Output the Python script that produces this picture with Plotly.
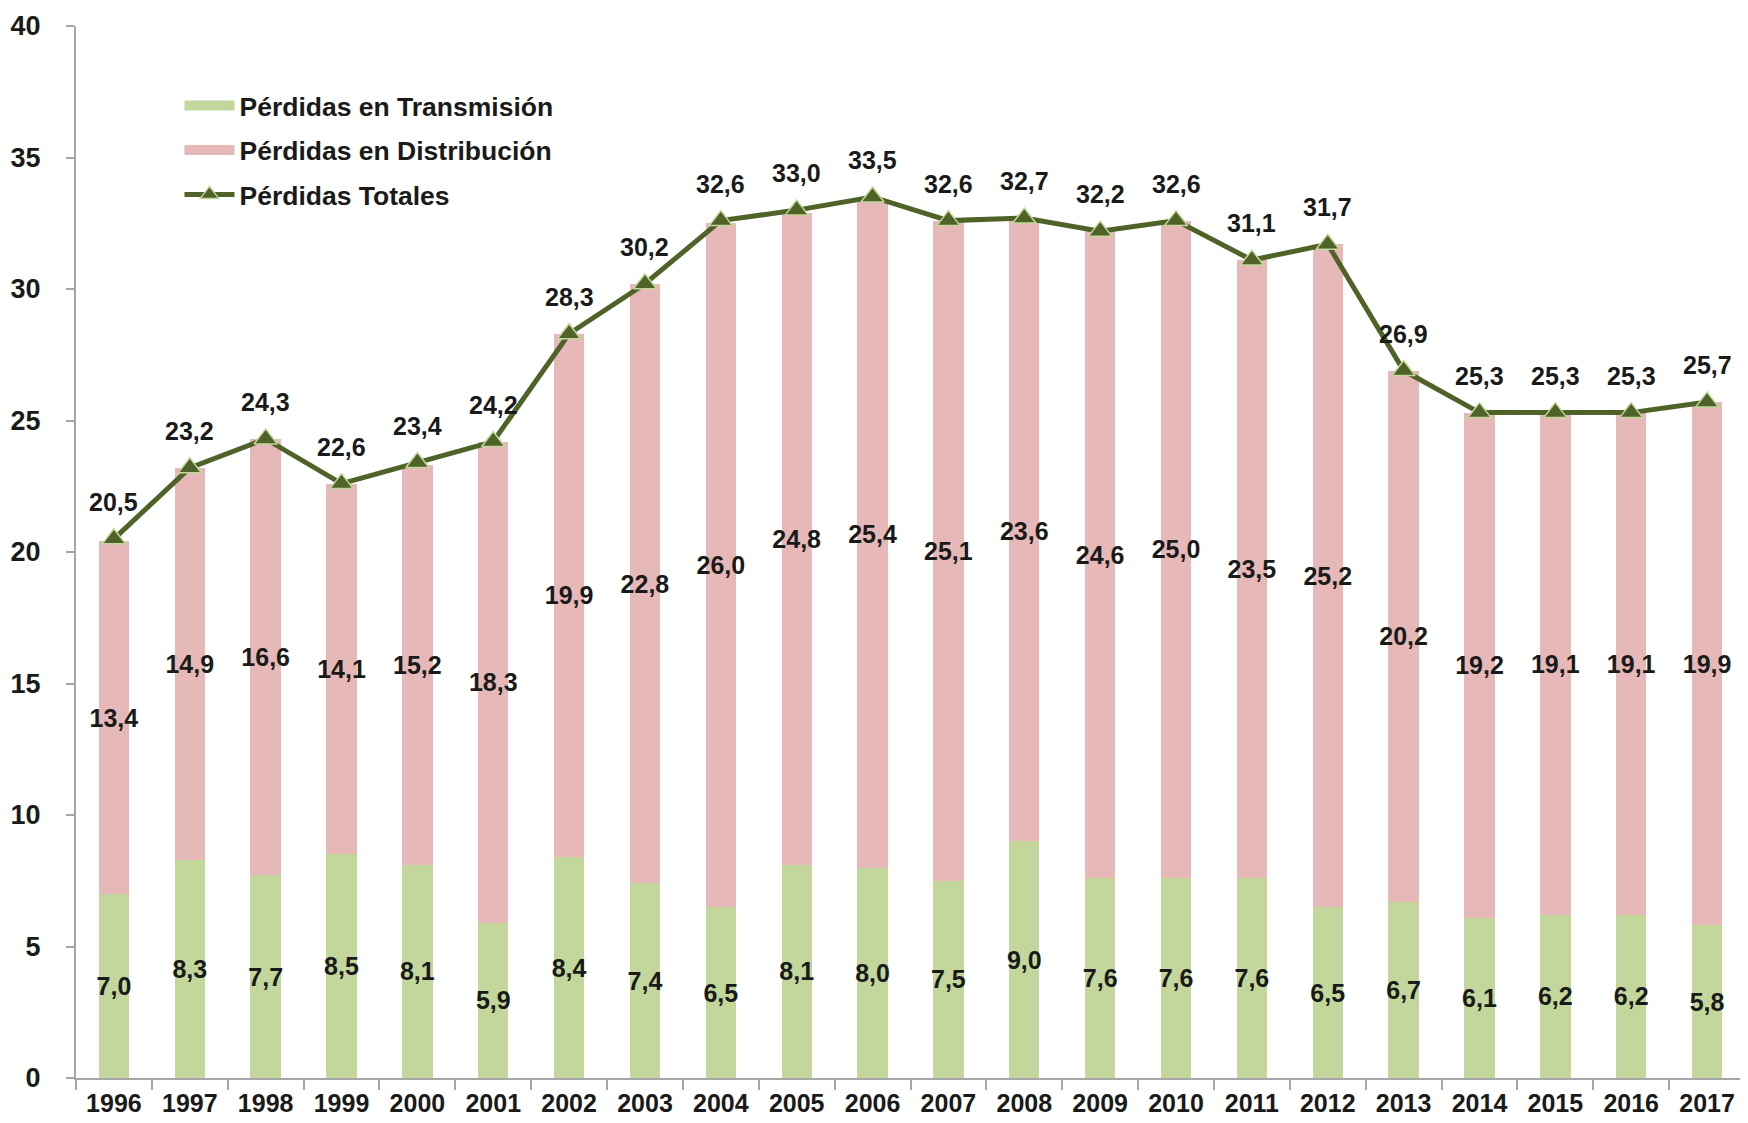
import plotly.graph_objects as go

years = [str(y) for y in range(1996, 2018)]
transmision = [7.0, 8.3, 7.7, 8.5, 8.1, 5.9, 8.4, 7.4, 6.5, 8.1, 8.0,
               7.5, 9.0, 7.6, 7.6, 7.6, 6.5, 6.7, 6.1, 6.2, 6.2, 5.8]
distribucion = [13.4, 14.9, 16.6, 14.1, 15.2, 18.3, 19.9, 22.8, 26.0, 24.8, 25.4,
                25.1, 23.6, 24.6, 25.0, 23.5, 25.2, 20.2, 19.2, 19.1, 19.1, 19.9]
totales = [20.5, 23.2, 24.3, 22.6, 23.4, 24.2, 28.3, 30.2, 32.6, 33.0, 33.5,
           32.6, 32.7, 32.2, 32.6, 31.1, 31.7, 26.9, 25.3, 25.3, 25.3, 25.7]

_GREEN = "#C3D69B"
_PINK = "#E6B9B8"
_LINE = "#4F6228"
_TEXT = "#1a1a1a"
_AXIS = "#A6A6A6"
_FONT = "Liberation Sans"


def fmt(v):
    return f"{v:.1f}".replace(".", ",")


label_font = dict(family=_FONT, size=25, color=_TEXT, weight="bold")

fig = go.Figure()

for name, vals, colour in [
    ("Pérdidas en Transmisión", transmision, _GREEN),
    ("Pérdidas en Distribución", distribucion, _PINK),
]:
    fig.add_trace(go.Bar(
        x=years,
        y=vals,
        name=name,
        marker=dict(color=colour, line=dict(width=0)),
        text=[fmt(v) for v in vals],
        textposition="inside",
        insidetextanchor="middle",
        textangle=0,
        constraintext="none",
        insidetextfont=label_font,
        showlegend=False,
        hoverinfo="skip",
        legendgroup=name,
    ))
    # legend-only swatch drawn as a thick line to get a wide block
    fig.add_trace(go.Scatter(
        x=[None], y=[None],
        mode="lines",
        line=dict(color=colour, width=16),
        name=name,
        legendgroup=name,
    ))

fig.add_trace(go.Scatter(
    x=years,
    y=totales,
    mode="lines+markers",
    line=dict(color=_LINE, width=5),
    marker=dict(symbol="triangle-up", size=20, color=_LINE,
                line=dict(color=_GREEN, width=1.5)),
    name="Pérdidas Totales",
    legendgroup="tot",
))

# annotations on a category axis take the category index
for i, v in enumerate(totales):
    fig.add_annotation(x=i, y=v, text=fmt(v), showarrow=False,
                       yshift=37, font=label_font)

fig.update_layout(
    width=1740,
    height=1115,
    barmode="stack",
    bargap=0.6,
    plot_bgcolor="white",
    paper_bgcolor="white",
    margin=dict(l=68, r=3, t=16, b=45),
    font=dict(family=_FONT, color=_TEXT),
    legend=dict(
        x=0.062, y=0.947, xanchor="left", yanchor="top",
        traceorder="grouped",
        font=dict(family=_FONT, size=26.5, color=_TEXT, weight="bold"),
        itemwidth=50,
        tracegroupgap=7,
        bgcolor="rgba(0,0,0,0)",
    ),
)

fig.update_xaxes(
    type="category",
    range=[-0.5, 21.5],
    automargin=False,
    showline=True, linecolor=_AXIS, linewidth=2,
    ticks="outside", tickson="boundaries", ticklen=10, tickcolor=_AXIS, tickwidth=2,
    ticklabelstandoff=2,
    tickfont=dict(family=_FONT, size=25, color=_TEXT, weight="bold"),
    showgrid=False,
)
fig.update_yaxes(
    range=[0, 40],
    dtick=5,
    showline=True, linecolor=_AXIS, linewidth=2,
    ticks="outside", ticklen=8, tickcolor=_AXIS, tickwidth=2,
    ticklabelstandoff=20,
    tickfont=dict(family=_FONT, size=27, color=_TEXT, weight="bold"),
    showgrid=False, zeroline=False,
)

fig.write_html("out.html")
